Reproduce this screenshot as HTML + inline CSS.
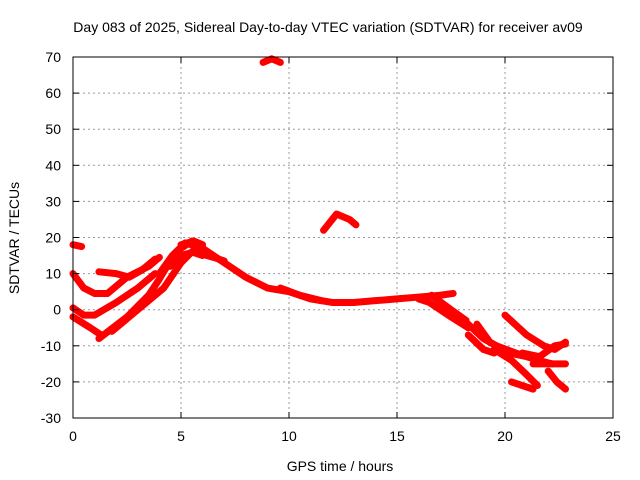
<!DOCTYPE html>
<html><head><meta charset="utf-8"><style>
body{margin:0;background:#fff}
svg{display:block;font-family:"Liberation Sans",sans-serif}
</style></head><body>
<svg id="c" width="640" height="480">
<text x="328" y="32" text-anchor="middle" font-size="14">Day 083 of 2025, Sidereal Day-to-day VTEC variation (SDTVAR) for receiver av09</text>
<text x="340" y="471" text-anchor="middle" font-size="14">GPS time / hours</text>
<text transform="translate(19,238) rotate(-90)" text-anchor="middle" font-size="14">SDTVAR / TECUs</text>
<g id="grid"></g><g id="marks"></g><g id="axes"></g>
</svg>
<script>
const xTicks=[0,5,10,15,20,25];
const yTicks=[-30,-20,-10,0,10,20,30,40,50,60,70];
const track1=[[0,18],[0.4,17.5]];
const track2=[[0,10],[0.5,6],[1,4.5],[1.6,4.5],[2.5,9],[3.5,12],[4,14.5]];
const track3=[[1.2,10.5],[2,10],[2.6,9],[3.2,11],[3.8,14]];
const track4=[[0,0.5],[0.5,-1.5],[1,-1.5],[2,2],[3,6],[3.8,10]];
const track5=[[0,-2],[0.8,-5],[1.3,-7]];
const track6=[[1.2,-8],[2.5,-2],[3.5,4],[4,8.5],[4.5,13.5],[5,17],[5.5,19],[6,16]];
const track7=[[1.8,-6],[3,0],[4.2,6],[5,13],[5.5,16],[6,15]];
const track8=[[4,10],[4.6,15],[5.2,18.5],[6,17],[7,13],[8,9],[9,6],[10,5],[11,3],[12,2],[13,2],[14,2.5],[15,3],[16,3.5],[17,4],[17.6,4.5]];
const track9=[[9.6,6],[10.5,4],[11.5,2.5]];
const track10=[[16,3],[16.5,2],[17.5,-2],[18.3,-5]];
const track11=[[16.6,4],[17.5,0],[18.2,-3]];
const track12=[[18.2,-3.5],[19,-8],[19.6,-10],[20.5,-12],[21.5,-14],[22.2,-15]];
const track13=[[18.7,-4],[19.3,-9],[20.2,-12],[21,-13]];
const track14=[[18.3,-7],[19,-11],[19.5,-12]];
const track15=[[20,-1.5],[21,-7],[21.8,-10],[22.3,-11],[22.8,-9]];
const track16=[[20.8,-12],[21.6,-13],[22.3,-10],[22.8,-9.5]];
const track17=[[21.3,-15],[22,-15],[22.8,-15]];
const track18=[[19.5,-11],[20.3,-14],[21,-18],[21.5,-21]];
const track19=[[20.3,-20],[20.8,-21],[21.3,-22]];
const track20=[[22,-17],[22.4,-20],[22.8,-22]];
const track21=[[8.8,68.5],[9.2,69.5],[9.6,68.5]];
const track22=[[11.6,22],[12.2,26.5],[12.8,25],[13.1,23.5]];
const track23=[[4.5,12],[5,15],[5.6,16],[6.5,14.5],[7,13.5]];
const track24=[[5,18],[5.6,19],[6,18]];
const tracks=[track1,track2,track3,track4,track5,track6,track7,track8,track9,track10,track11,track12,track13,track14,track15,track16,track17,track18,track19,track20,track21,track22,track23,track24];
const L=73,R=613,T=57,B=418;
const sx=v=>L+(v-0)/(25-0)*(R-L);
const sy=v=>B-(v+30)/100*(B-T);
const NS="http://www.w3.org/2000/svg";
function mk(tag,attrs,parent){const e=document.createElementNS(NS,tag);for(const k in attrs)e.setAttribute(k,attrs[k]);parent.appendChild(e);return e;}
const grid=document.getElementById('grid'),axes=document.getElementById('axes'),marks=document.getElementById('marks');
xTicks.forEach(t=>{
 const x=sx(t);
 if(t>0&&t<25){const g=mk('line',{x1:x,x2:x,y1:T,y2:B,stroke:'#999','stroke-dasharray':'2,3'},grid);
 
 }
 mk('line',{x1:x,x2:x,y1:B,y2:B-6,stroke:'#000'},axes);
 mk('line',{x1:x,x2:x,y1:T,y2:T+6,stroke:'#000'},axes);
 const tx=mk('text',{x:x,y:B+23,'text-anchor':'middle','font-size':'14'},axes);
 tx.textContent=t;
 
 
});
yTicks.forEach(t=>{
 const y=sy(t);
 if(t>-30&&t<70){const g=mk('line',{x1:L,x2:R,y1:y,y2:y,stroke:'#999','stroke-dasharray':'2,3'},grid);
 
 }
 mk('line',{x1:L,x2:L+6,y1:y,y2:y,stroke:'#000'},axes);
 mk('line',{x1:R,x2:R-6,y1:y,y2:y,stroke:'#000'},axes);
 const tx=mk('text',{x:L-12,y:y+5,'text-anchor':'end','font-size':'14'},axes);
 tx.textContent=t;
 
 
});
const fr=mk('rect',{x:L,y:T,width:R-L,height:B-T,fill:'none',stroke:'#000'},axes);


tracks.forEach(tr=>{
 const p=mk('polyline',{points:tr.map(d=>sx(d[0])+','+sy(d[1])).join(' '),fill:'none',stroke:'#f00','stroke-width':'7','stroke-linejoin':'round','stroke-linecap':'round'},marks);
 
 
});
</script>
</body></html>
